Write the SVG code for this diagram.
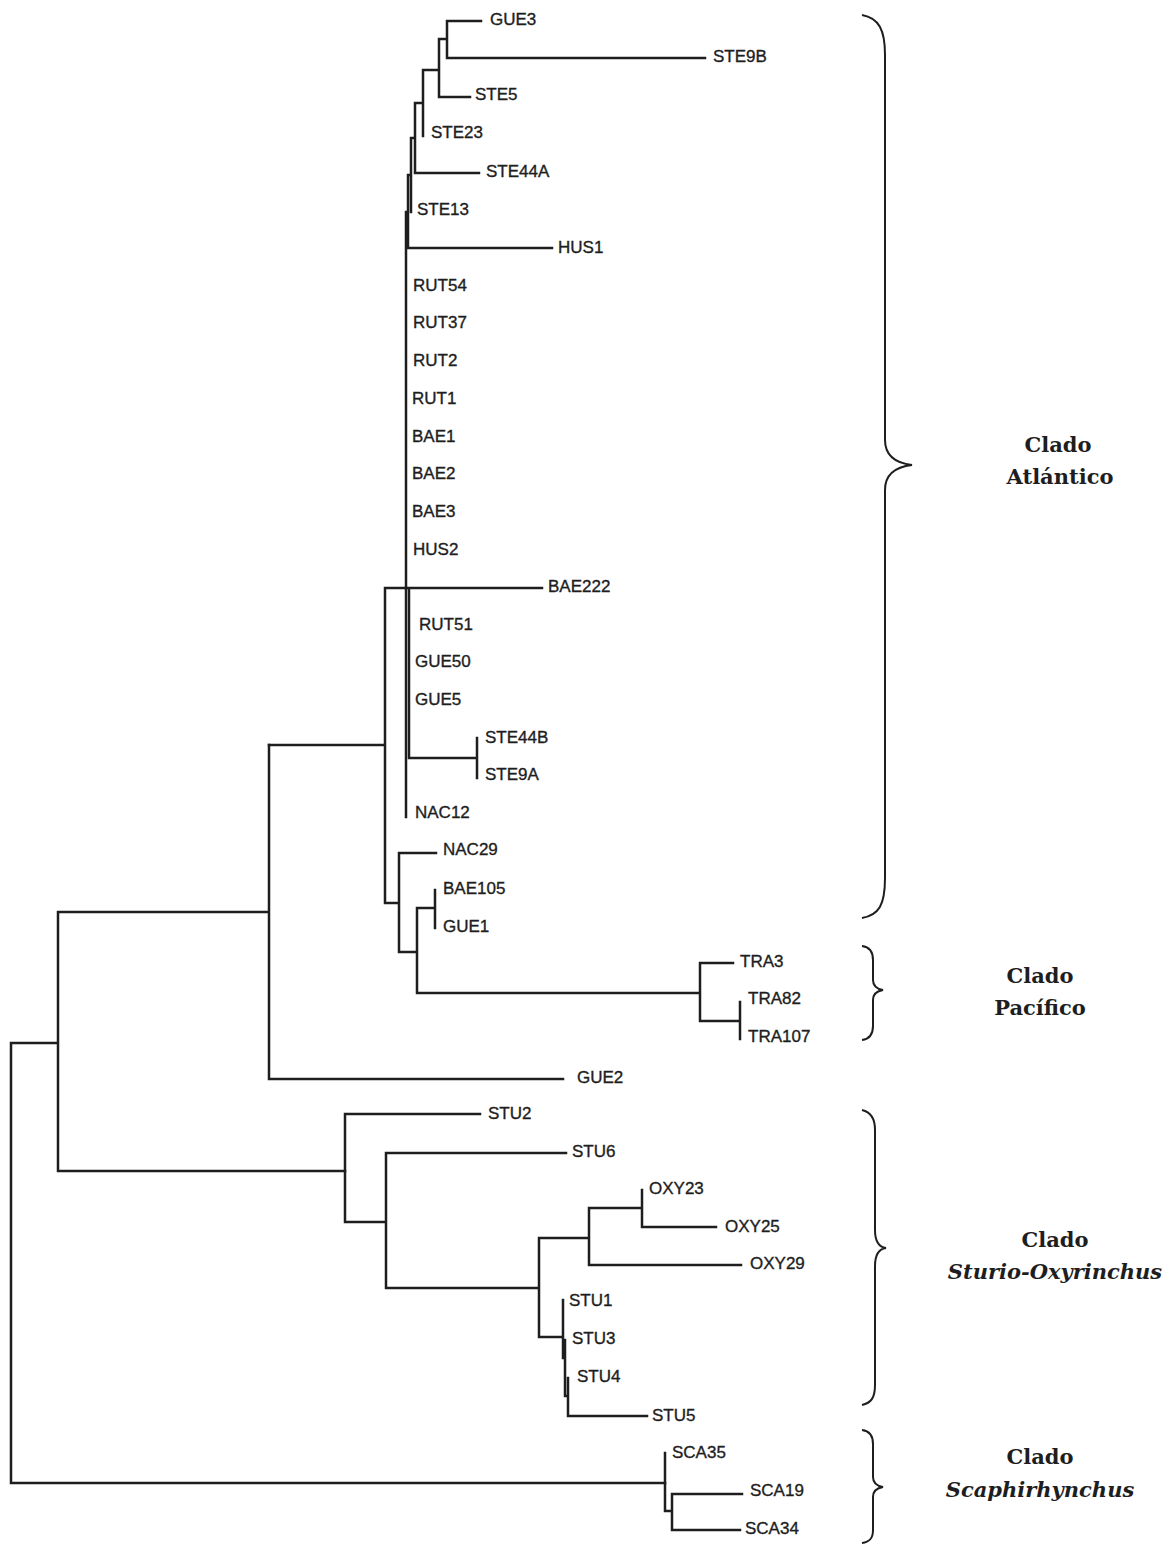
<svg xmlns="http://www.w3.org/2000/svg" width="1170" height="1545" viewBox="0 0 1170 1545">
<style>
.b{fill:none;stroke:#1e1e1e;stroke-width:2.5;stroke-linecap:square}
.br{fill:none;stroke:#1e1e1e;stroke-width:2}
.t{font-family:"Liberation Sans",Arial,sans-serif;font-size:17px;fill:#1e1e1e;stroke:#1e1e1e;stroke-width:0.35}
.c{font-family:"DejaVu Serif","Liberation Serif",serif;font-size:21px;font-weight:bold;fill:#1e1e1e;text-anchor:middle}
.i{font-style:italic}
</style>
<rect width="1170" height="1545" fill="#fff"/>
<g id="connectors">
<path class="b" d="M447,21H481M447,58H705M447,21V58M439,39H447M439,39V97M439,97H470M423,70H439M423,70V136M415,103H423M415,103V173M415,173H479M411,138H415M411,138V212M408,175H411M408,175V248M408,248H552M406,212H408M406,212V817"/>
<path class="b" d="M406,588H409M409,588V758M409,588H542M409,758H477M477,738V778M409,605V632"/>
<path class="b" d="M385,588H406M385,588V903M269,745H385M385,903H399M399,853V952M399,853H436M399,952H417M417,908V993M417,908H435M435,890V928M417,993H700M700,963V1021M700,963H733M700,1021H740M740,1002V1039"/>
<path class="b" d="M269,745V1079M269,1079H563M58,912H269M58,912V1171M58,1171H345M11,1043H58M11,1043V1483M11,1483H665"/>
<path class="b" d="M345,1114V1222M345,1114H480M345,1222H386M386,1153V1288M386,1153H566M386,1288H539M539,1238V1337M539,1238H589M589,1208V1265M589,1208H642M642,1190V1227M642,1227H716M589,1265H741M539,1337H563M563,1300V1358M563,1358H565M565,1340V1396M565,1396H568M568,1378V1416M568,1416H647"/>
<path class="b" d="M665,1453V1511M665,1511H672M672,1494V1530M672,1494H742M672,1530H740"/>
</g>
<g id="braces">
<path class="br" d="M862,15C879,18 885,30 885,55L885,440C885,455 895,463 912,465C895,467 885,475 885,490L885,878C885,905 879,915 862,918"/>
<path class="br" d="M862,946C870,947 873,952 873,960L873,980C873,986 877,989 883,990C877,991 873,994 873,1000L873,1026C873,1034 870,1039 862,1040"/>
<path class="br" d="M862,1110C871,1112 875,1118 875,1130L875,1230C875,1241 879,1247 886,1248C879,1249 875,1255 875,1266L875,1385C875,1398 871,1403 862,1405"/>
<path class="br" d="M862,1430C870,1431 873,1436 873,1444L873,1477C873,1483 877,1486 883,1487C877,1488 873,1491 873,1497L873,1530C873,1538 870,1542 862,1543"/>
</g>
<g id="clade-atlantico"><text class="c" x="1058" y="452">Clado</text><text class="c" x="1060" y="484">Atlántico</text></g>
<g id="clade-pacifico"><text class="c" x="1040" y="983">Clado</text><text class="c" x="1040" y="1015">Pacífico</text></g>
<g id="clade-sturio"><text class="c" x="1055" y="1247">Clado</text><text class="c i" x="1055" y="1279">Sturio-Oxyrinchus</text></g>
<g id="clade-scaph"><text class="c" x="1040" y="1464">Clado</text><text class="c i" x="1040" y="1497">Scaphirhynchus</text></g>
<g id="n-GUE3"><text class="t" x="490" y="25">GUE3</text></g>
<g id="n-STE9B"><text class="t" x="713" y="62">STE9B</text></g>
<g id="n-STE5"><text class="t" x="475" y="100">STE5</text></g>
<g id="n-STE23"><text class="t" x="431" y="138">STE23</text></g>
<g id="n-STE44A"><text class="t" x="486" y="177">STE44A</text></g>
<g id="n-STE13"><text class="t" x="417" y="215">STE13</text></g>
<g id="n-HUS1"><text class="t" x="558" y="253">HUS1</text></g>
<g id="n-RUT54"><text class="t" x="413" y="291">RUT54</text></g>
<g id="n-RUT37"><text class="t" x="413" y="328">RUT37</text></g>
<g id="n-RUT2"><text class="t" x="413" y="366">RUT2</text></g>
<g id="n-RUT1"><text class="t" x="412" y="404">RUT1</text></g>
<g id="n-BAE1"><text class="t" x="412" y="442">BAE1</text></g>
<g id="n-BAE2"><text class="t" x="412" y="479">BAE2</text></g>
<g id="n-BAE3"><text class="t" x="412" y="517">BAE3</text></g>
<g id="n-HUS2"><text class="t" x="413" y="555">HUS2</text></g>
<g id="n-BAE222"><text class="t" x="548" y="592">BAE222</text></g>
<g id="n-RUT51"><text class="t" x="419" y="630">RUT51</text></g>
<g id="n-GUE50"><text class="t" x="415" y="667">GUE50</text></g>
<g id="n-GUE5"><text class="t" x="415" y="705">GUE5</text></g>
<g id="n-STE44B"><text class="t" x="485" y="743">STE44B</text></g>
<g id="n-STE9A"><text class="t" x="485" y="780">STE9A</text></g>
<g id="n-NAC12"><text class="t" x="415" y="818">NAC12</text></g>
<g id="n-NAC29"><text class="t" x="443" y="855">NAC29</text></g>
<g id="n-BAE105"><text class="t" x="443" y="894">BAE105</text></g>
<g id="n-GUE1"><text class="t" x="443" y="932">GUE1</text></g>
<g id="n-TRA3"><text class="t" x="740" y="967">TRA3</text></g>
<g id="n-TRA82"><text class="t" x="748" y="1004">TRA82</text></g>
<g id="n-TRA107"><text class="t" x="748" y="1042">TRA107</text></g>
<g id="n-GUE2"><text class="t" x="577" y="1083">GUE2</text></g>
<g id="n-STU2"><text class="t" x="488" y="1119">STU2</text></g>
<g id="n-STU6"><text class="t" x="572" y="1157">STU6</text></g>
<g id="n-OXY23"><text class="t" x="649" y="1194">OXY23</text></g>
<g id="n-OXY25"><text class="t" x="725" y="1232">OXY25</text></g>
<g id="n-OXY29"><text class="t" x="750" y="1269">OXY29</text></g>
<g id="n-STU1"><text class="t" x="569" y="1306">STU1</text></g>
<g id="n-STU3"><text class="t" x="572" y="1344">STU3</text></g>
<g id="n-STU4"><text class="t" x="577" y="1382">STU4</text></g>
<g id="n-STU5"><text class="t" x="652" y="1421">STU5</text></g>
<g id="n-SCA35"><text class="t" x="672" y="1458">SCA35</text></g>
<g id="n-SCA19"><text class="t" x="750" y="1496">SCA19</text></g>
<g id="n-SCA34"><text class="t" x="745" y="1534">SCA34</text></g>
</svg>
